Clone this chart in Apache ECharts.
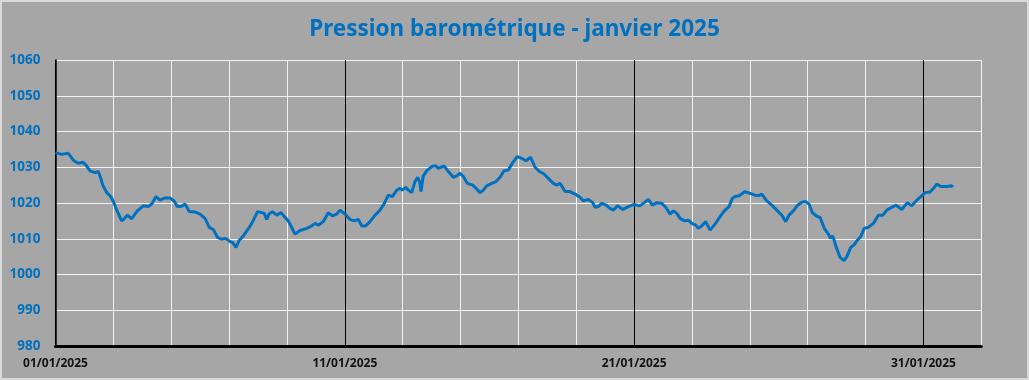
<!DOCTYPE html>
<html>
<head>
<meta charset="utf-8">
<script src="https://cdn.jsdelivr.net/npm/echarts@6/dist/echarts.min.js"></script>
<style>
html,body{margin:0;padding:0;background:#a6a6a6;}
#c{width:1029px;height:380px;}
</style>
</head>
<body>
<div id="c"></div>
<script>
// hours since 01/01/2025 00:00
const hours = [0,5,10.6,12,15.3,18.9,22.6,25.3,28.6,32.8,35.5,36.9,39.2,42.5,45.8,48,50.8,54.9,56.8,59.6,63.2,67.9,72.8,77,79.8,83.4,86.7,90.8,95,98.3,101,104.7,107.4,111,115.7,119.9,124,127.6,130.9,134.6,137.9,141.2,144.8,147,149.7,152.5,155.8,157.2,160.8,162.8,167.7,171,173.2,175.2,177.1,179.9,183.5,187.1,189.8,193.1,195.9,198.7,202.8,208.4,212.5,215.3,218,222.2,226.3,229.6,233.3,236,240.2,244.3,247.9,251.2,254,257.3,260.9,265.1,269.2,272.8,276.1,279.4,283.1,285.8,287.7,290.5,292.7,295.5,298.2,300.5,302.4,303.2,305.1,307.9,312.1,315.4,317.6,319,322.3,325.9,330,332.8,335.6,338.3,341.6,346.1,348.9,352.2,354.9,357.7,361.9,365.4,368.8,372.1,375.6,379.3,383.1,386.8,390.3,394.2,397.8,401.4,405.3,408.8,413,415.8,418.5,422.7,426.8,431,435.1,437.9,442,445.7,447.6,450.3,453.1,456.7,460,462.8,466.1,470.6,475.2,479.9,484.8,488.4,491.8,495.1,498.8,502.9,506.2,509.8,512.5,515.4,518.1,521.7,525,527.8,531.1,533.3,536.1,539.4,543,547.1,551.3,554.8,558.7,561.5,563.7,567,569.3,572,576.2,580.3,583.6,585.9,590,594.2,598.3,602.5,605.8,608.5,612.1,615.7,619.1,622.4,625.1,627.8,631.5,634.2,637.8,641.1,643.1,644.8,647.5,650.8,654.2,656.4,659.7,662.5,665.2,668,670.8,674.3,678.5,682.6,686.3,689.6,693.7,697.3,702,706.7,710.3,714.5,717.8,721.4,725.5,728.3,731.1,734.4,739.4,743.5,744.3];
const pressure = [1034.1,1033.6,1033.9,1034.1,1031.8,1031.1,1031.4,1030.6,1029.0,1028.5,1028.8,1027.6,1025.0,1022.9,1021.8,1020.4,1018.0,1015.0,1015.5,1016.6,1015.6,1017.8,1019.2,1019.0,1019.7,1021.8,1020.8,1021.4,1021.4,1020.6,1019.0,1019.1,1019.7,1017.6,1017.5,1016.9,1015.7,1013.2,1012.6,1010.3,1009.9,1010.1,1009.2,1008.9,1007.6,1009.6,1010.8,1011.0,1013.2,1014.3,1017.6,1017.3,1017.1,1015.4,1016.9,1017.6,1016.6,1017.3,1016.2,1015.0,1013.2,1011.3,1012.3,1012.9,1013.6,1014.3,1013.8,1014.8,1017.3,1016.4,1016.9,1018.0,1016.9,1015.4,1015.0,1015.4,1013.6,1013.6,1014.8,1016.6,1018.0,1019.9,1022.2,1021.8,1023.6,1024.1,1023.6,1024.4,1023.6,1022.9,1026.0,1027.2,1025.5,1023.2,1027.6,1029.0,1030.2,1030.4,1029.7,1029.4,1030.4,1028.8,1027.2,1027.6,1028.3,1027.4,1025.5,1025.0,1024.1,1022.9,1023.6,1024.8,1025.5,1026.0,1027.2,1029.0,1029.2,1031.3,1033.0,1032.5,1031.8,1032.8,1030.0,1028.8,1028.1,1026.9,1025.5,1025.0,1025.5,1023.2,1023.2,1022.5,1021.6,1020.6,1021.0,1020.1,1018.8,1019.0,1019.9,1019.4,1018.5,1018.0,1019.2,1018.2,1019.0,1019.6,1019.2,1020.1,1021.0,1019.4,1020.1,1019.9,1018.8,1016.9,1017.8,1017.1,1015.7,1015.0,1015.2,1014.3,1013.8,1012.9,1013.6,1014.8,1012.4,1014.1,1016.2,1017.8,1019.0,1021.3,1021.8,1022.0,1022.5,1023.2,1022.7,1022.2,1022.1,1022.5,1020.6,1019.4,1018.0,1016.6,1014.8,1016.6,1017.8,1019.4,1020.2,1020.4,1019.7,1017.3,1016.3,1016.0,1012.9,1011.3,1010.1,1010.8,1007.8,1004.8,1003.9,1005.0,1007.6,1008.3,1009.6,1010.6,1012.9,1013.2,1014.3,1016.6,1016.6,1018.0,1018.8,1019.4,1018.2,1020.1,1019.2,1020.8,1021.8,1022.9,1023.1,1024.1,1025.3,1024.6,1024.6,1024.8,1024.4];
const xTickLabels = ['01/01/2025','11/01/2025','21/01/2025','31/01/2025'];
const yTicks = [980,990,1000,1010,1020,1030,1040,1050,1060];

const chart = echarts.init(document.getElementById('c'));
chart.setOption({
  backgroundColor: '#a6a6a6',
  animation: false,
  title: {
    text: 'Pression barométrique - janvier 2025',
    left: 'center', top: 13,
    textStyle: {color:'#0070C0', fontSize:22.5, fontWeight:'bold', fontFamily:'"Noto Sans",sans-serif'}
  },
  graphic: [{type:'rect', silent:true, shape:{x:1,y:1,width:1027,height:378}, style:{fill:null, stroke:'#d9d9d9', lineWidth:2}}],
  grid: {left:55.5, right:47.7, top:60, bottom:34},
  xAxis: {
    type:'value', min:0, max:768, interval:48,
    axisLine:{show:true, onZero:false, lineStyle:{color:'#000', width:3}},
    axisTick:{show:false},
    splitLine:{show:true, lineStyle:{color:['#000','#f2f2f2','#f2f2f2','#f2f2f2','#f2f2f2'], width:1}},
    axisLabel:{
      margin:12, color:'#111', fontSize:12, fontWeight:'bold', fontFamily:'"Noto Sans",sans-serif',
      formatter: v => (v % 240 === 0 ? xTickLabels[v/240] : '')
    }
  },
  yAxis: {
    type:'value', min:yTicks[0], max:yTicks[yTicks.length-1], interval:10,
    axisLine:{show:true, lineStyle:{color:'#000', width:1.5}},
    axisTick:{show:false},
    splitLine:{show:true, lineStyle:{color:'#f2f2f2', width:1}},
    axisLabel:{margin:15, color:'#0070C0', fontSize:13.5, fontWeight:'bold', fontFamily:'"Noto Sans",sans-serif',
      formatter: v => String(v)}
  },
  series: [{
    type:'line', symbol:'none', smooth:false,
    data: hours.map((h,i)=>[h, pressure[i]]),
    lineStyle:{color:'#0070C0', width:3}
  }]
});
</script>
</body>
</html>
